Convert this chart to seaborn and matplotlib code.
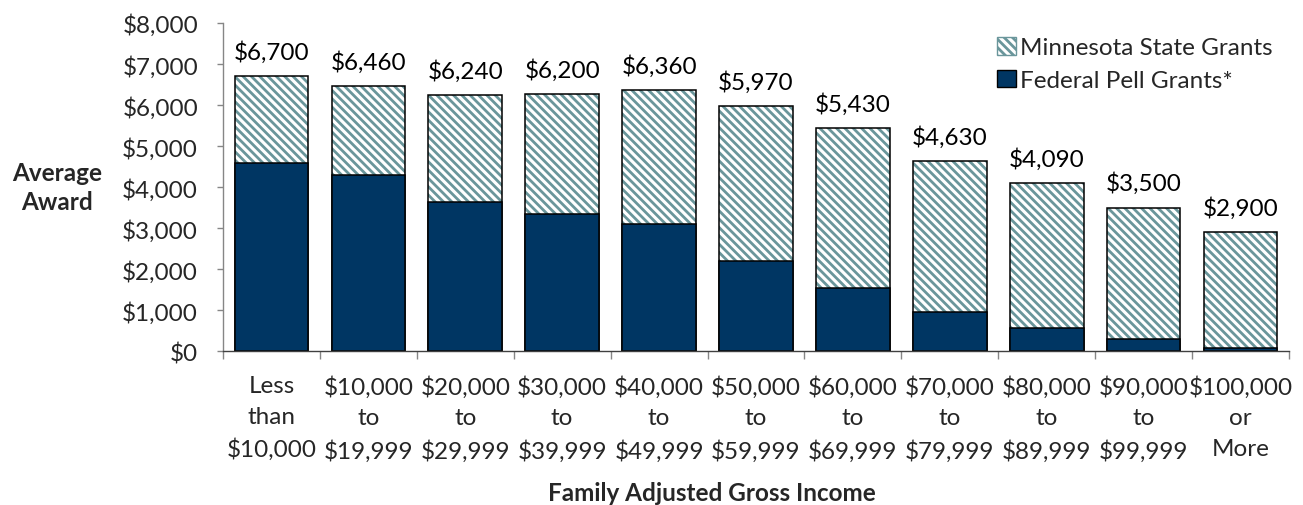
import matplotlib
matplotlib.use("Agg")
import matplotlib.pyplot as plt
from matplotlib.patches import Patch
from matplotlib.ticker import StrMethodFormatter
import seaborn as sns
import numpy as np
import pandas as pd

sns.set_style("white")
plt.rcParams["font.family"] = ["Lato", "DejaVu Sans"]
plt.rcParams["hatch.linewidth"] = 2.0

income = ["Less\nthan\n$10,000", "$10,000\nto\n$19,999", "$20,000\nto\n$29,999",
          "$30,000\nto\n$39,999", "$40,000\nto\n$49,999", "$50,000\nto\n$59,999",
          "$60,000\nto\n$69,999", "$70,000\nto\n$79,999", "$80,000\nto\n$89,999",
          "$90,000\nto\n$99,999", "$100,000\nor\nMore"]
pell = [4600, 4300, 3650, 3350, 3100, 2200, 1550, 950, 570, 290, 90]
state = [2100, 2160, 2590, 2910, 3260, 3770, 3880, 3680, 3520, 3210, 2810]
total_labels = [6700, 6460, 6240, 6200, 6360, 5970, 5430, 4630, 4090, 3500, 2900]

navy = "#003663"
teal = "#6A969B"
fs = 17.5

df = pd.DataFrame({"income": income, "pell": pell, "state": state})
df["total"] = df["pell"] + df["state"]

fig = plt.figure(figsize=(13.03, 5.06), dpi=100)
ax = fig.add_axes([223 / 1303, 1 - 352.3 / 506, 1066 / 1303, 328.3 / 506])

# hatched state part (full stack height), then outline, then pell on top
sns.barplot(data=df, x="income", y="total", color="white", width=0.76, saturation=1,
            errorbar=None, hatch="\\\\\\\\", edgecolor=teal, linewidth=0, ax=ax)
sns.barplot(data=df, x="income", y="total", color="black", fill=False, width=0.76,
            errorbar=None, linewidth=1.1, ax=ax)
sns.barplot(data=df, x="income", y="pell", color=navy, width=0.76, saturation=1,
            errorbar=None, edgecolor="black", linewidth=1.1, ax=ax)

for i, (tot, lab) in enumerate(zip(df["total"], total_labels)):
    ax.annotate(f"${lab:,}", (i, tot), xytext=(0, 12.5), textcoords="offset points",
                ha="center", va="baseline", fontsize=fs, color="black")

ax.set_ylim(0, 8000)
ax.set_xlim(-0.5, 10.5)
ax.set_yticks(np.arange(0, 8001, 1000))
ax.yaxis.set_major_formatter(StrMethodFormatter("${x:,.0f}"))
ax.set_xticks(np.arange(-0.5, 11, 1), minor=True)

ax.tick_params(axis="y", which="major", length=4, width=1, color="#868686",
               pad=14, labelsize=fs, left=True)
ax.tick_params(axis="x", which="major", length=0, pad=17, labelsize=fs)
ax.tick_params(axis="x", which="minor", length=6, width=1, color="#868686", bottom=True)
for t in ax.get_xticklabels():
    t.set_linespacing(1.58)

for s in ["top", "right"]:
    ax.spines[s].set_visible(False)
ax.spines["left"].set_color("#868686")
ax.spines["bottom"].set_color("#404040")
ax.spines["left"].set_linewidth(1)
ax.spines["bottom"].set_linewidth(1)

ax.set_ylabel("Average\nAward", rotation=0, fontsize=fs, fontweight="bold",
              ha="center", va="center", linespacing=1.3)
ax.yaxis.set_label_coords(-0.156, 0.5)
ax.set_xlabel("Family Adjusted Gross Income", fontsize=fs, fontweight="bold",
              ha="center", va="center")
ax.xaxis.set_label_coords(0.459, -0.4286)

handles = [Patch(facecolor="white", edgecolor=teal, hatch="\\\\\\\\", linewidth=1),
           Patch(facecolor=navy, edgecolor="black", linewidth=1)]
ax.legend(handles, ["Minnesota State Grants", "Federal Pell Grants*"],
          loc="upper left", bbox_to_anchor=(0.715, 0.995), frameon=False,
          fontsize=fs, handlelength=0.75, handleheight=0.75, handletextpad=0.2,
          labelspacing=0.47, borderpad=0)

fig.savefig("out.png", dpi=100)
